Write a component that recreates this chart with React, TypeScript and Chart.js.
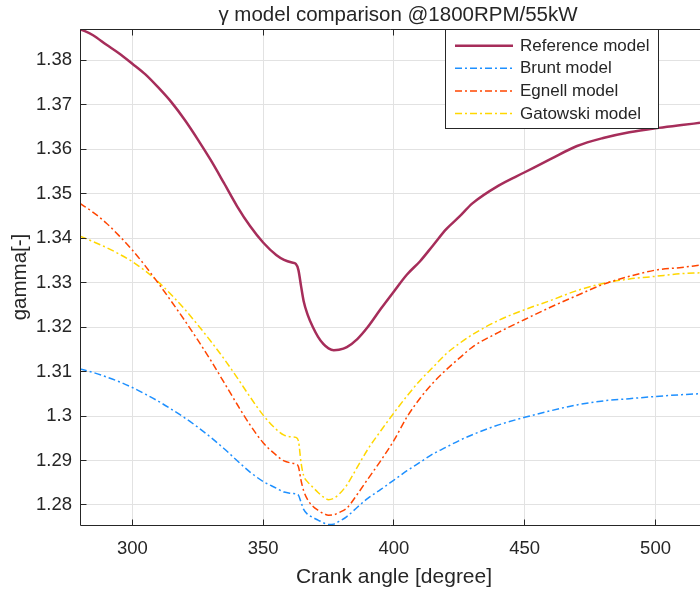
import React, { useEffect, useRef } from "react";
import { Chart, registerables } from "chart.js";

Chart.register(...registerables);

// ---- data ----
const angles = [
  280, 285, 290, 295, 300, 305, 310, 315, 320, 325, 330, 335, 340, 345, 350, 355, 358, 361, 362.5, 363.5,
  364.5, 365.5, 367, 369, 371, 373, 375, 377, 379, 382, 386, 390, 395, 400, 405, 410, 415, 420, 425, 430,
  440, 450, 460, 470, 480, 490, 500, 510, 517,
];

const referenceModel = [
  1.387, 1.3856, 1.3835, 1.3815, 1.3792, 1.3768, 1.3738, 1.3705, 1.3666, 1.3622, 1.3575, 1.3524, 1.3472,
  1.3427, 1.339, 1.3362, 1.3351, 1.3345, 1.3342, 1.3328, 1.3292, 1.3258, 1.3228, 1.32, 1.3178, 1.3162,
  1.3152, 1.3148, 1.3149, 1.3155, 1.3173, 1.32, 1.3241, 1.328, 1.3318, 1.3348, 1.3384, 1.342, 1.3448,
  1.3478, 1.3518, 1.3548, 1.3578, 1.3607, 1.3625, 1.3638, 1.3647, 1.3654, 1.3659,
];

const bruntModel = [
  1.3106, 1.3098, 1.3088, 1.3077, 1.3064, 1.3049, 1.3033, 1.3015, 1.2996, 1.2975, 1.2952, 1.2927, 1.29,
  1.2874, 1.2853, 1.2838, 1.2829, 1.2826, 1.2825, 1.2822, 1.2806, 1.279, 1.2779, 1.2772, 1.2766, 1.276,
  1.2756, 1.2757, 1.2763, 1.2774, 1.2795, 1.2815, 1.2835, 1.2856, 1.2877, 1.2896, 1.2915, 1.293, 1.2945,
  1.2958, 1.298, 1.2997, 1.3012, 1.3025, 1.3034, 1.3039, 1.3044, 1.3048, 1.305,
];

const egnellModel = [
  1.3478, 1.3458, 1.3434, 1.3405, 1.3373, 1.3337, 1.3298, 1.3257, 1.3215, 1.3171, 1.3125, 1.3076, 1.3027,
  1.298, 1.294, 1.2912, 1.2899, 1.2894, 1.2892, 1.2886, 1.2855, 1.2832, 1.2812, 1.2797, 1.2788, 1.2781,
  1.2777, 1.2778, 1.2783, 1.2793, 1.2824, 1.2858, 1.29, 1.2945, 1.2998, 1.304, 1.3075, 1.3104, 1.313,
  1.3155, 1.3188, 1.3217, 1.3245, 1.3271, 1.3296, 1.3314, 1.3328, 1.3334, 1.3339,
];

const gatowskiModel = [
  1.3404, 1.3392, 1.3379, 1.3364, 1.3347, 1.3326, 1.3301, 1.3272, 1.324, 1.3205, 1.3168, 1.3129, 1.3087,
  1.3043, 1.3002, 1.297, 1.2957, 1.2953, 1.2952, 1.2944, 1.2895, 1.2866, 1.2852, 1.284, 1.2828, 1.2818,
  1.2812, 1.2815, 1.2824, 1.2845, 1.2885, 1.2925, 1.2967, 1.3007, 1.3045, 1.308, 1.311, 1.314, 1.3163,
  1.3183, 1.3215, 1.3239, 1.326, 1.3282, 1.3298, 1.3308, 1.3314, 1.332, 1.3322,
];

const seriesLabels = ["Reference model", "Brunt model", "Egnell model", "Gatowski model"];
const xTicks = [300, 350, 400, 450, 500];
const yTicks = [1.28, 1.29, 1.3, 1.31, 1.32, 1.33, 1.34, 1.35, 1.36, 1.37, 1.38];
const yTickLabels = ["1.28", "1.29", "1.3", "1.31", "1.32", "1.33", "1.34", "1.35", "1.36", "1.37", "1.38"];
const chartTitle = "γ model comparison @1800RPM/55kW";
const xAxisTitle = "Crank angle [degree]";
const yAxisTitle = "gamma[-]";

// ---- styles ----
const FONT = "'Liberation Sans', Arial, Helvetica, sans-serif";
const INK = "#262626";
const GRID = "#e2e2e2";
const COLORS = ["#A62D5A", "#1E90FF", "#FF4500", "#FFD700"];
const WIDTHS = [2.5, 1.5, 1.5, 1.5];
const DASHDOT = [7, 3, 2, 3];

const frameAndLegend = {
  id: "frameAndLegend",
  afterDraw(chart: any) {
    const { ctx, chartArea } = chart;
    const { left, right, top, bottom } = chartArea;
    const xs = chart.scales.x;
    const ys = chart.scales.y;
    const al = (p: number) => Math.round(p - 0.5) + 0.5;
    const line = (x1: number, y1: number, x2: number, y2: number) => {
      ctx.beginPath();
      ctx.moveTo(x1, y1);
      ctx.lineTo(x2, y2);
      ctx.stroke();
    };
    ctx.save();
    ctx.strokeStyle = INK;
    ctx.lineWidth = 1;
    ctx.setLineDash([]);
    // frame (left, bottom, top)
    const L = al(left), B = al(bottom), T = al(top);
    line(L, T, L, B);
    line(L, B, right, B);
    line(L, T, right, T);
    // inward tick marks
    xTicks.forEach((v) => {
      const px = al(xs.getPixelForValue(v));
      line(px, B, px, B - 6);
      line(px, T, px, T + 6);
    });
    yTicks.forEach((v) => {
      const py = al(ys.getPixelForValue(v));
      line(L, py, L + 6, py);
    });

    // titles (centred on the full axes box, which extends past the canvas)
    ctx.fillStyle = INK;
    ctx.textAlign = "center";
    ctx.textBaseline = "middle";
    ctx.font = `20.5px ${FONT}`;
    ctx.fillText(chartTitle, 398, 15.5);
    ctx.font = `21px ${FONT}`;
    ctx.fillText(xAxisTitle, 394, 577);

    // legend box
    const bx = 445.5, by = 29.5, bw = 213, bh = 99;
    ctx.fillStyle = "#ffffff";
    ctx.fillRect(bx, by, bw, bh);
    ctx.strokeStyle = INK;
    ctx.strokeRect(bx, by, bw, bh);
    ctx.font = `17px ${FONT}`;
    ctx.textBaseline = "middle";
    ctx.textAlign = "left";
    chart.data.datasets.forEach((ds: any, i: number) => {
      const yy = 45.7 + i * 22.6;
      ctx.strokeStyle = ds.borderColor;
      ctx.lineWidth = ds.borderWidth;
      ctx.setLineDash(ds.borderDash || []);
      line(455, yy, 513, yy);
      ctx.setLineDash([]);
      ctx.fillStyle = INK;
      ctx.fillText(ds.label, 520, yy + 0.5);
    });
    ctx.restore();
  },
};

export default function App() {
  const canvasRef = useRef<HTMLCanvasElement | null>(null);

  useEffect(() => {
    if (!canvasRef.current) return;
    const series = [referenceModel, bruntModel, egnellModel, gatowskiModel];
    const datasets = series.map((vals, i) => ({
      label: seriesLabels[i],
      data: angles.map((a, j) => ({ x: a, y: vals[j] })),
      borderColor: COLORS[i],
      backgroundColor: COLORS[i],
      borderWidth: WIDTHS[i],
      borderDash: i === 0 ? [] : DASHDOT,
      pointRadius: 0,
      fill: false,
      cubicInterpolationMode: "monotone" as const,
      order: i === 0 ? 0 : 1,
    }));

    const chart = new Chart(canvasRef.current, {
      type: "line",
      data: { datasets },
      plugins: [frameAndLegend],
      options: {
        animation: false,
        responsive: true,
        maintainAspectRatio: false,
        layout: { padding: { top: 29, left: 0, right: 0, bottom: 0 } },
        plugins: {
          legend: { display: false },
          tooltip: { enabled: false },
          title: { display: false },
        },
        scales: {
          x: {
            type: "linear",
            min: 280,
            max: 517,
            afterBuildTicks: (s: any) => {
              s.ticks = xTicks.map((v) => ({ value: v }));
            },
            afterFit: (s: any) => {
              s.height = 66;
              s.paddingLeft = 0;
              s.paddingRight = 0;
            },
            grid: { color: GRID, lineWidth: 1, drawTicks: false },
            border: { display: false },
            ticks: {
              color: INK,
              font: { family: FONT, size: 18.5 },
              padding: 13,
              maxRotation: 0,
              autoSkip: false,
              callback: (v: any) => String(v),
            },
            title: { display: false },
          },
          y: {
            type: "linear",
            min: 1.2755,
            max: 1.387,
            afterBuildTicks: (s: any) => {
              s.ticks = yTicks.map((v) => ({ value: v }));
            },
            afterFit: (s: any) => {
              s.width = 80;
              s.paddingTop = 0;
              s.paddingBottom = 0;
            },
            grid: { color: GRID, lineWidth: 1, drawTicks: false },
            border: { display: false },
            ticks: {
              color: INK,
              font: { family: FONT, size: 18.5 },
              padding: 8,
              autoSkip: false,
              callback: (_v: any, i: number) => yTickLabels[i],
            },
            title: {
              display: true,
              text: yAxisTitle,
              color: INK,
              font: { family: FONT, size: 20.5, lineHeight: 1.2 },
              padding: { top: 8.2, bottom: 0 },
            },
          },
        },
      } as any,
    });
    return () => chart.destroy();
  }, []);

  return (
    <div style={{ position: "fixed", left: 0, top: 0, width: 700, height: 591, background: "#fff" }}>
      <canvas ref={canvasRef} />
    </div>
  );
}
